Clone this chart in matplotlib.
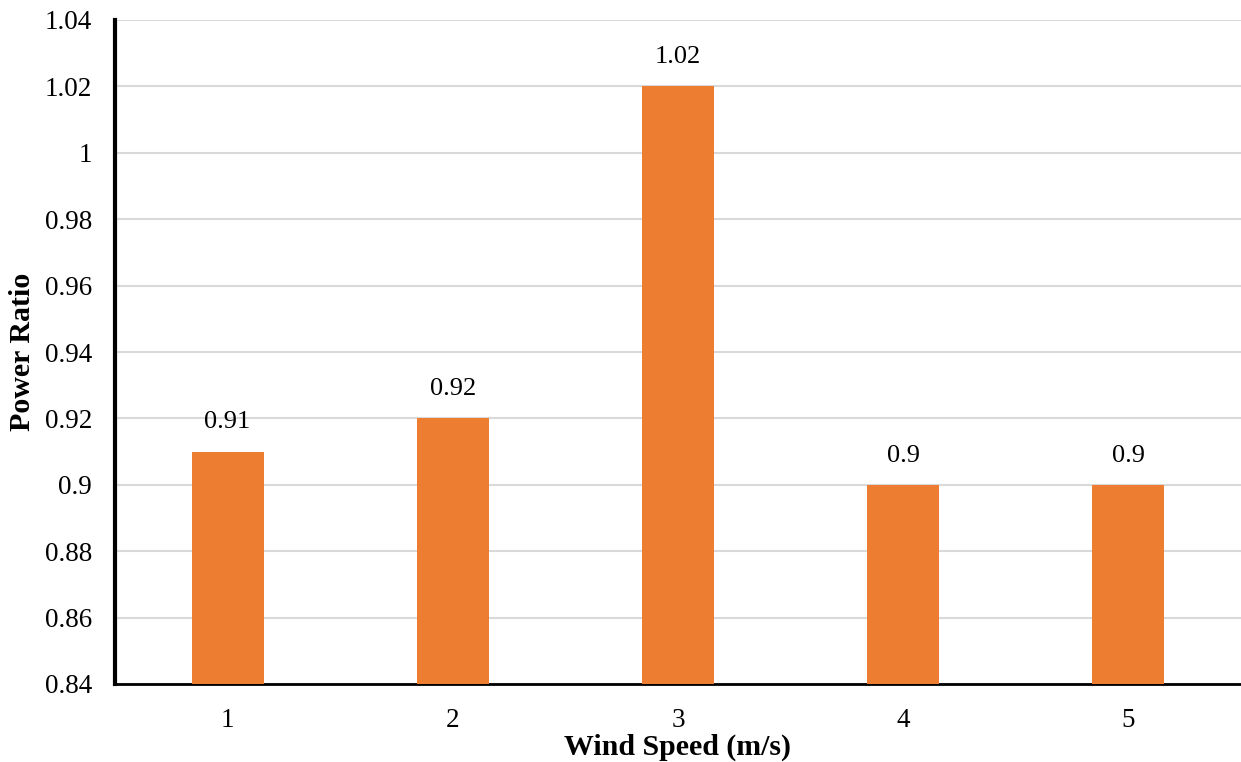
import matplotlib.pyplot as plt
import numpy as np

plt.rcParams['font.family'] = ['Liberation Serif', 'DejaVu Serif']

# 风速与功率比
wind_speed = ['1', '2', '3', '4', '5']
power_ratio = [0.91, 0.92, 1.02, 0.90, 0.90]
value_labels = ['0.91', '0.92', '1.02', '0.9', '0.9']
y_ticks = [0.84, 0.86, 0.88, 0.90, 0.92, 0.94, 0.96, 0.98, 1.00, 1.02, 1.04]
y_tick_labels = ['0.84', '0.86', '0.88', '0.9', '0.92', '0.94', '0.96', '0.98', '1', '1.02', '1.04']

fig = plt.figure(figsize=(12.41, 7.62), dpi=100)
ax = fig.add_axes([115 / 1241, 1 - 684 / 762, (1241 - 115) / 1241, (684 - 20) / 762])

x = np.arange(len(wind_speed))
base = 0.84
ax.bar(x, [v - base for v in power_ratio], bottom=base, width=0.32, color='#ED7D31', zorder=3)

for i, (v, s) in enumerate(zip(power_ratio, value_labels)):
    ax.annotate(s, (i, v), xytext=(0, 21), textcoords='offset points',
                ha='center', va='center', fontsize=19)

ax.set_xlim(-0.5, len(wind_speed) - 0.5)
ax.set_ylim(0.84, 1.04)
ax.set_xticks(x, wind_speed)
ax.set_yticks(y_ticks, y_tick_labels)
ax.tick_params(axis='both', length=0, labelsize=19.5)
ax.tick_params(axis='y', pad=16.5)
ax.tick_params(axis='x', pad=17)

ax.yaxis.grid(True, color='#D9D9D9', linewidth=1.5, zorder=0)
ax.set_axisbelow(True)

for side in ['top', 'right']:
    ax.spines[side].set_visible(False)
ax.spines['left'].set_linewidth(3)
ax.spines['bottom'].set_linewidth(2)

ax.set_xlabel('Wind Speed (m/s)', fontsize=21.5, fontweight='bold', labelpad=1)
ax.set_ylabel('Power Ratio', fontsize=21.5, fontweight='bold', labelpad=6)

fig.savefig('out.png', dpi=100)
